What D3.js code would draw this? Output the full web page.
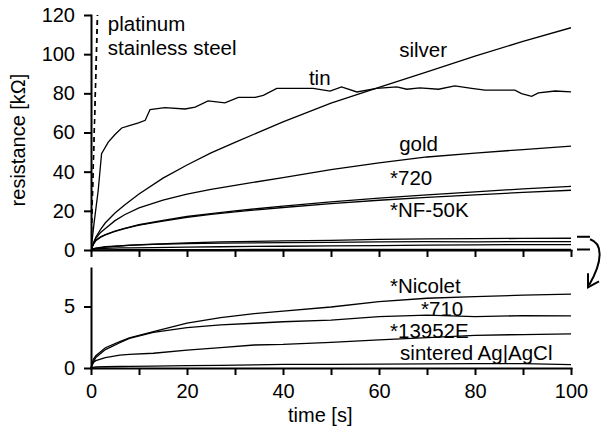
<!DOCTYPE html>
<html lang="en">
<head>
<meta charset="UTF-8">
<title>Electrode resistance over time</title>
<script src="https://d3js.org/d3.v7.min.js"></script>
<style>
    body { margin: 0; background: #fff; }
    svg { display: block; font-family: "Liberation Sans", Arial, sans-serif; }
    .axis path, .axis line { stroke: #000; stroke-width: 2; }
    .axis text { font-size: 20px; fill: #000; }
    .curve { fill: none; stroke: #000; stroke-width: 1.3; }
    .label { font-size: 20.5px; fill: #000; }
</style>
</head>
<body>
<svg width="604" height="431"></svg>
<script>
// ---- data ----
const tSmooth = [0, 0.5, 1, 2, 3, 5, 7, 10, 15, 20, 25, 30, 40, 50, 60, 70, 80, 90, 100];
const silver = [0, 3.5, 6.5, 10.5, 13.9, 18.9, 23.0, 28.6, 36.7, 43.4, 49.6, 55.0, 65.4, 75.0, 83.1, 91.0, 99.0, 106.5, 113.5];
const gold = [0, 3.5, 6, 9, 11, 15, 18, 21.5, 25.5, 28.5, 31, 33, 37, 41, 44.5, 47.5, 49.5, 51.3, 53];
const k720 = [0, 3, 5, 6.7, 7.9, 9.7, 11.1, 12.9, 15.1, 17.1, 18.6, 20.0, 22.4, 24.6, 26.5, 28.2, 29.7, 31.2, 32.5];
const nf50k = [0, 2.9, 4.8, 6.5, 7.7, 9.5, 10.9, 12.7, 14.8, 16.7, 18.2, 19.5, 21.7, 23.7, 25.4, 26.9, 28.2, 29.4, 30.5];

const tinTime = [0, 0.7, 1.5, 2.2, 3.6, 5, 6.4, 8, 9.9, 11.3, 12.3, 15.4, 19.6, 21.7, 24.4, 27.9, 30.7, 34.2, 35.9, 38.7, 42.9, 46.3, 49.8, 52.2, 55.4, 59.5, 63.7, 65.8, 68.5, 72.4, 75.8, 79.3, 82.1, 88.3, 89.7, 91.8, 93.2, 96.7, 100];
const tin = [0, 15, 30.4, 49.2, 55.1, 59, 62.3, 63.5, 64.9, 66.2, 71.7, 72.7, 72.0, 73.0, 76.1, 75.1, 77.9, 77.9, 79, 82.5, 82.5, 82.5, 81.1, 83.3, 80.7, 82.5, 83.3, 82.1, 82.8, 82.1, 83.8, 82.5, 81.6, 81.6, 79.9, 78.5, 80.2, 81.2, 80.7];

const platinum = [[0, 0], [1.3, 120]];
const stainless = [[0, 0], [1.4, 120]];

const tSmall = [0, 0.5, 1, 3, 6, 8, 13, 20, 27, 34, 40, 50, 60, 70, 80, 90, 100];
const nicolet = [0, 0.7, 1.0, 1.65, 2.15, 2.45, 2.95, 3.65, 4.1, 4.42, 4.63, 4.96, 5.39, 5.67, 5.8, 5.92, 6.0];
const k710 = [0, 0.5, 0.85, 1.5, 2.05, 2.4, 2.9, 3.28, 3.5, 3.64, 3.76, 3.9, 4.17, 4.3, 4.18, 4.25, 4.23];
const k13952 = [0, 0.45, 0.6, 0.85, 1.05, 1.1, 1.2, 1.46, 1.66, 1.87, 1.92, 2.09, 2.28, 2.47, 2.66, 2.72, 2.78];
const sintered = [0, 0.05, 0.08, 0.1, 0.12, 0.13, 0.15, 0.2, 0.22, 0.25, 0.3, 0.3, 0.32, 0.34, 0.35, 0.35, 0.28];

const topTicks = [0, 20, 40, 60, 80, 100, 120];
const bottomTicks = [0, 5];
const timeTicks = [0, 10, 20, 30, 40, 50, 60, 70, 80, 90, 100];

// label text with anchor point in data units [time, value]
const topLabels = [
    ["platinum", 3.5, 111.8],
    ["stainless steel", 3.5, 99.5],
    ["silver", 64.2, 98.5],
    ["tin", 45.4, 84.1],
    ["gold", 64.2, 50.4],
    ["*720", 62.3, 33.0],
    ["*NF-50K", 62.3, 16.6]
];
const bottomLabels = [
    ["*Nicolet", 62.3, 6.1],
    ["*710", 68.75, 4.2],
    ["*13952E", 62.3, 2.41],
    ["sintered Ag|AgCl", 64.4, 0.65]
];

// ---- layout ----
const left = 91, right = 571;
const topPanel = { top: 15, bottom: 250 };
const botPanel = { top: 268, bottom: 368 };

const svg = d3.select("svg");

const x = d3.scaleLinear().domain([0, 100]).range([left, right]);
const yTop = d3.scaleLinear().domain([0, 120]).range([topPanel.bottom, topPanel.top]);
const yBot = d3.scaleLinear().domain([0, 8.13]).range([botPanel.bottom, botPanel.top]);

svg.append("clipPath").attr("id", "clipTop")
    .append("rect")
    .attr("x", left).attr("y", topPanel.top)
    .attr("width", right - left).attr("height", topPanel.bottom - topPanel.top);

const lineTop = d3.line().x(d => x(d[0])).y(d => yTop(d[1]));
const lineBot = d3.line().x(d => x(d[0])).y(d => yBot(d[1]));
const zip = (ts, vs) => ts.map((t, i) => [t, vs[i]]);

const smallSeries = [nicolet, k710, k13952, sintered].map(v => zip(tSmall, v));
const topSeries = [
    zip(tinTime, tin),
    zip(tSmooth, silver),
    zip(tSmooth, gold),
    zip(tSmooth, k720),
    zip(tSmooth, nf50k)
].concat(smallSeries);

// top panel curves
const gTop = svg.append("g").attr("clip-path", "url(#clipTop)");
gTop.selectAll(".curve")
    .data(topSeries)
    .enter().append("path")
    .attr("class", "curve")
    .attr("d", lineTop);

gTop.selectAll(".dashed")
    .data([platinum, stainless])
    .enter().append("path")
    .attr("class", "curve")
    .attr("stroke-dasharray", "5,4")
    .attr("d", lineTop);

// bottom panel curves
svg.append("g").selectAll("path")
    .data(smallSeries)
    .enter().append("path")
    .attr("class", "curve")
    .attr("d", lineBot);

// axes
svg.append("g")
    .attr("class", "axis")
    .attr("transform", `translate(${left},0)`)
    .call(d3.axisLeft(yTop).tickValues(topTicks).tickSize(7).tickSizeOuter(0).tickPadding(9));

svg.append("g")
    .attr("class", "axis")
    .attr("transform", `translate(0,${topPanel.bottom})`)
    .call(d3.axisBottom(x).tickValues(timeTicks).tickSize(7).tickSizeOuter(0).tickFormat(""));

svg.append("g")
    .attr("class", "axis")
    .attr("transform", `translate(${left},0)`)
    .call(d3.axisLeft(yBot).tickValues(bottomTicks).tickSize(7).tickSizeOuter(0).tickPadding(9));

svg.append("g")
    .attr("class", "axis")
    .attr("transform", `translate(0,${botPanel.bottom})`)
    .call(d3.axisBottom(x).tickValues(timeTicks).tickSize(7).tickSizeOuter(0).tickPadding(9)
        .tickFormat(d => d % 20 === 0 ? d : ""));

svg.selectAll(".axis .domain").attr("stroke-linecap", "square");

// curve labels
svg.selectAll(".toplabel")
    .data(topLabels)
    .enter().append("text")
    .attr("class", "label")
    .attr("x", d => x(d[1]))
    .attr("y", d => yTop(d[2]))
    .text(d => d[0]);

svg.selectAll(".botlabel")
    .data(bottomLabels)
    .enter().append("text")
    .attr("class", "label")
    .attr("x", d => x(d[1]))
    .attr("y", d => yBot(d[2]))
    .text(d => d[0]);

// axis titles
svg.append("text")
    .attr("x", 288)
    .attr("y", 422)
    .attr("font-size", 20)
    .text("time [s]");

svg.append("text")
    .attr("transform", "rotate(-90)")
    .attr("x", -140)
    .attr("y", 25)
    .attr("text-anchor", "middle")
    .attr("font-size", 20)
    .text("resistance [kΩ]");

// zoom bracket + arrow on the right
const bx = right + 6;
svg.append("g").selectAll("line")
    .data([6.5, 0])
    .enter().append("line")
    .attr("x1", bx).attr("x2", bx + 13)
    .attr("y1", d => yTop(d) - 0.5).attr("y2", d => yTop(d) - 0.5)
    .attr("stroke", "#000").attr("stroke-width", 2);

const y0 = yTop(6.5) + 2;
svg.append("path")
    .attr("d", `M${bx + 13},${y0} C${bx + 26},${y0 + 4} ${bx + 26},${y0 + 22} ${bx + 12},${y0 + 46}`)
    .attr("fill", "none").attr("stroke", "#000").attr("stroke-width", 2);
svg.append("path")
    .attr("d", `M${bx + 11},${y0 + 34} L${bx + 11},${y0 + 48} L${bx + 22},${y0 + 42}`)
    .attr("fill", "none").attr("stroke", "#000").attr("stroke-width", 2);
</script>
</body>
</html>
